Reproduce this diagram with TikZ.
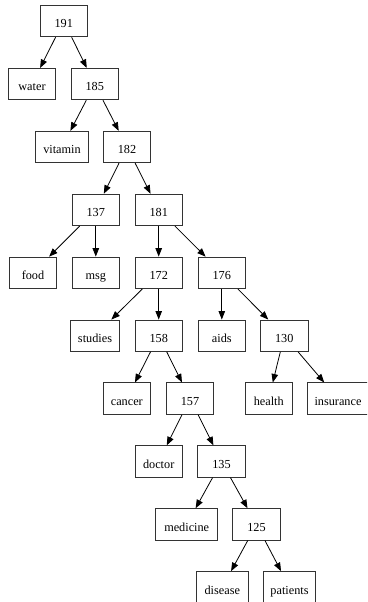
\documentclass[tikz,border=0pt]{standalone}
\usepackage{fontspec}
\setmainfont{Liberation Serif}
\usetikzlibrary{arrows.meta}
\begin{document}
\begin{tikzpicture}[x=1pt,y=1pt,
  box/.style={draw=black!80, line width=0.8pt, rectangle, inner sep=0pt,
    minimum width=47.3pt, minimum height=31.5pt,
    text height=13.6pt, text depth=0pt,
    font=\fontsize{12.25}{14}\selectfont},
  edge/.style={draw=black, line width=0.8pt,
    -{Triangle[length=8.5pt,width=6.5pt]}}]
\useasboundingbox (0,0) rectangle (367,-602);
\clip (0,0) rectangle (367,-602);
% row 1
\node[box] (n191) at (63.7,-21.1) {191};
% row 2
\node[box] (water) at (32,-84.1) {water};
\node[box] (n185) at (94.7,-84.1) {185};
% row 3
\node[box, minimum width=52.6pt] (vitamin) at (62,-147.0) {vitamin};
\node[box] (n182) at (127,-147.0) {182};
% row 4
\node[box] (n137) at (95.8,-209.9) {137};
\node[box] (n181) at (158.7,-209.9) {181};
% row 5
\node[box] (food) at (33,-272.8) {food};
\node[box] (msg) at (95.8,-272.8) {msg};
\node[box] (n172) at (158.7,-272.8) {172};
\node[box] (n176) at (221.8,-272.8) {176};
% row 6
\node[box, minimum width=49.4pt] (studies) at (95,-335.7) {studies};
\node[box] (n158) at (158.7,-335.7) {158};
\node[box] (aids) at (221.8,-335.7) {aids};
\node[box] (n130) at (284.3,-335.7) {130};
% row 7
\node[box] (cancer) at (126.8,-398.6) {cancer};
\node[box] (n157) at (190,-398.6) {157};
\node[box] (health) at (268.8,-398.6) {health};
\node[box, minimum width=60.6pt] (insurance) at (338,-398.6) {insurance};
% row 8
\node[box] (doctor) at (158.7,-461.5) {doctor};
\node[box] (n135) at (221.5,-461.5) {135};
% row 9
\node[box, minimum width=62pt] (medicine) at (186.7,-524.4) {medicine};
\node[box] (n125) at (256.5,-524.4) {125};
% row 10
\node[box, minimum width=51.3pt] (disease) at (222.3,-587.3) {disease};
\node[box, minimum width=52.4pt] (patients) at (289.5,-587.3) {patients};
% edges
\draw[edge] (n191) -- (water);
\draw[edge] (n191) -- (n185);
\draw[edge] (n185) -- (vitamin);
\draw[edge] (n185) -- (n182);
\draw[edge] (n182) -- (n137);
\draw[edge] (n182) -- (n181);
\draw[edge] (n137) -- (food);
\draw[edge] (n137) -- (msg);
\draw[edge] (n181) -- (n172);
\draw[edge] (n181) -- (n176);
\draw[edge] (n172) -- (studies);
\draw[edge] (n172) -- (n158);
\draw[edge] (n176) -- (aids);
\draw[edge] (n176) -- (n130);
\draw[edge] (n158) -- (cancer);
\draw[edge] (n158) -- (n157);
\draw[edge] (n130) -- (health);
\draw[edge] (n130) -- (insurance);
\draw[edge] (n157) -- (doctor);
\draw[edge] (n157) -- (n135);
\draw[edge] (n135) -- (medicine);
\draw[edge] (n135) -- (n125);
\draw[edge] (n125) -- (disease);
\draw[edge] (n125) -- (patients);
\end{tikzpicture}
\end{document}
